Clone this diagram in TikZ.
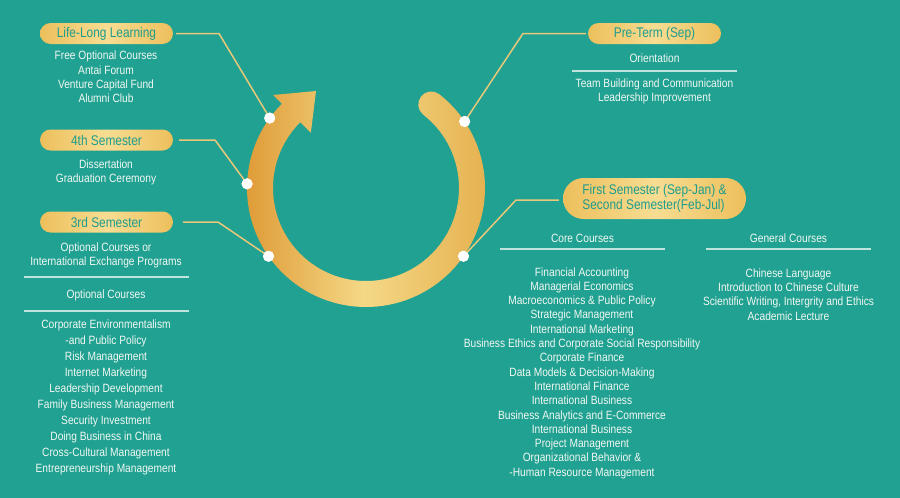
\documentclass[tikz,border=0pt]{standalone}
\usepackage{fontspec}
\setmainfont{Liberation Sans}[FakeStretch=0.85]
\usetikzlibrary{calc}
\definecolor{bg}{HTML}{20A192}
\definecolor{pillEdge}{HTML}{EDBF5C}
\definecolor{pillMid}{HTML}{F7DD92}
\definecolor{pillText}{HTML}{1E9C8D}
\definecolor{txt}{HTML}{F2F8F2}
\definecolor{lineGold}{HTML}{E9C879}
\definecolor{ruleCol}{HTML}{BFE4DB}
\definecolor{ringL}{HTML}{DD9630}
\definecolor{ringM}{HTML}{F4D886}
\definecolor{ringR}{HTML}{E5B04E}
\begin{document}
\begin{tikzpicture}[x=1pt,y=-1pt,
  pill/.style={rounded corners=10.5pt, minimum width=133pt, minimum height=21pt,
    left color=pillEdge, right color=pillEdge, middle color=pillMid,
    text=pillText, font=\fontsize{14}{15}\selectfont, inner sep=0pt},
  body/.style={text=txt, align=center, font=\fontsize{12}{14.3}\selectfont, inner sep=0pt},
  wide/.style={body, font=\fontsize{12}{16}\selectfont},
  conn/.style={draw=lineGold, line width=1.5pt},
  seprule/.style={draw=ruleCol, line width=1.2pt},
  dot/.style={circle, fill=white, minimum size=11pt, inner sep=0pt}]
\fill[bg] (0,0) rectangle (900,498);
\useasboundingbox (0,0) rectangle (900,498);

% ring
\coordinate (c) at (366,188);
\shade[left color=ringL, right color=ringR, middle color=ringM]
  ($(c)+(135:119pt)$) arc[start angle=135, end angle=412, radius=119pt]
  arc[start angle=52, end angle=232, radius=13pt]
  arc[start angle=412, end angle=135, radius=93pt]
  -- ($(c)+(135:78pt)$) -- (316,91) -- ($(c)+(135:131.5pt)$) -- cycle;

% dots
\node[dot] (d1) at ($(c)+(144:119pt)$) {};
\node[dot] (d2) at ($(c)+(178:119pt)$) {};
\node[dot] (d3) at ($(c)+(215:119pt)$) {};
\node[dot] (d4) at ($(c)+(34:119pt)$) {};
\node[dot] (d5) at ($(c)+(-35:119pt)$) {};

% pills
\node[pill] (ll) at (106.5,33.5) {Life-Long Learning};
\node[pill] (s4) at (106.5,140) {4th Semester};
\node[pill] (s3) at (106.5,222) {3rd Semester};
\node[pill] (pt) at (654.5,33.5) {Pre-Term (Sep)};
\node[pill, minimum width=183pt, minimum height=41pt, rounded corners=20.5pt, align=left] (fs) at (654.5,198.5) {First Semester (Sep-Jan) \&\\Second Semester(Feb-Jul)};

% connectors
\coordinate (b1) at (219,33.5);
\coordinate (b2) at (215,140);
\coordinate (b3) at (218,222);
\coordinate (b4) at (523,33.5);
\coordinate (b5) at (516,200);
\draw[conn, shorten <=3pt] (ll.east) -- (b1) -- (d1.center);
\draw[conn, shorten <=6pt] (s4.east) -- (b2) -- (d2.center);
\draw[conn, shorten <=10pt] (s3.east) -- (b3) -- (d3.center);
\draw[conn, shorten <=2pt] (pt.west) -- (b4) -- (d4.center);
\draw[conn, shorten <=4pt] (fs.west |- b5) -- (b5) -- (d5.center);
\foreach \d in {d1,d2,d3,d4,d5} \node[dot] at (\d) {};

% left texts
\node[body] (llt) at (106,77) {Free Optional Courses\\Antai Forum\\Venture Capital Fund\\Alumni Club};
\node[body] (s4t) at (106,172.5) {Dissertation\\Graduation Ceremony};
\node[body] (s3t) at (106,255.5) {Optional Courses or\\International Exchange Programs};
\draw[seprule] (24,277) -- (189,277);
\node[body] (s3o) at (106,295) {Optional Courses};
\draw[seprule] (24,311) -- (189,311);
\node[wide] (s3l) at (106,397) {Corporate Environmentalism\\-and Public Policy\\Risk Management\\Internet Marketing\\Leadership Development\\Family Business Management\\Security Investment\\Doing Business in China\\Cross-Cultural Management\\Entrepreneurship Management};

% right texts
\node[body] (ori) at (654.5,58) {Orientation};
\draw[seprule] (572,71) -- (737,71);
\node[body] (ptt) at (654.5,91.5) {Team Building and Communication\\Leadership Improvement};
\node[body] (cch) at (582.5,238) {Core Courses};
\draw[seprule] (500,249) -- (665,249);
\node[body] (gch) at (788.5,238) {General Courses};
\draw[seprule] (706,249) -- (871,249);
\node[body] (ccl) at (582,373) {Financial Accounting\\Managerial Economics\\Macroeconomics \& Public Policy\\Strategic Management\\International Marketing\\Business Ethics and Corporate Social Responsibility\\Corporate Finance\\Data Models \& Decision-Making\\International Finance\\International Business\\Business Analytics and E-Commerce\\International Business\\Project Management\\Organizational Behavior \&\\-Human Resource Management};
\node[body] (gcl) at (788.5,294.5) {Chinese Language\\Introduction to Chinese Culture\\Scientific Writing, Intergrity and Ethics\\Academic Lecture};
\end{tikzpicture}
\end{document}
